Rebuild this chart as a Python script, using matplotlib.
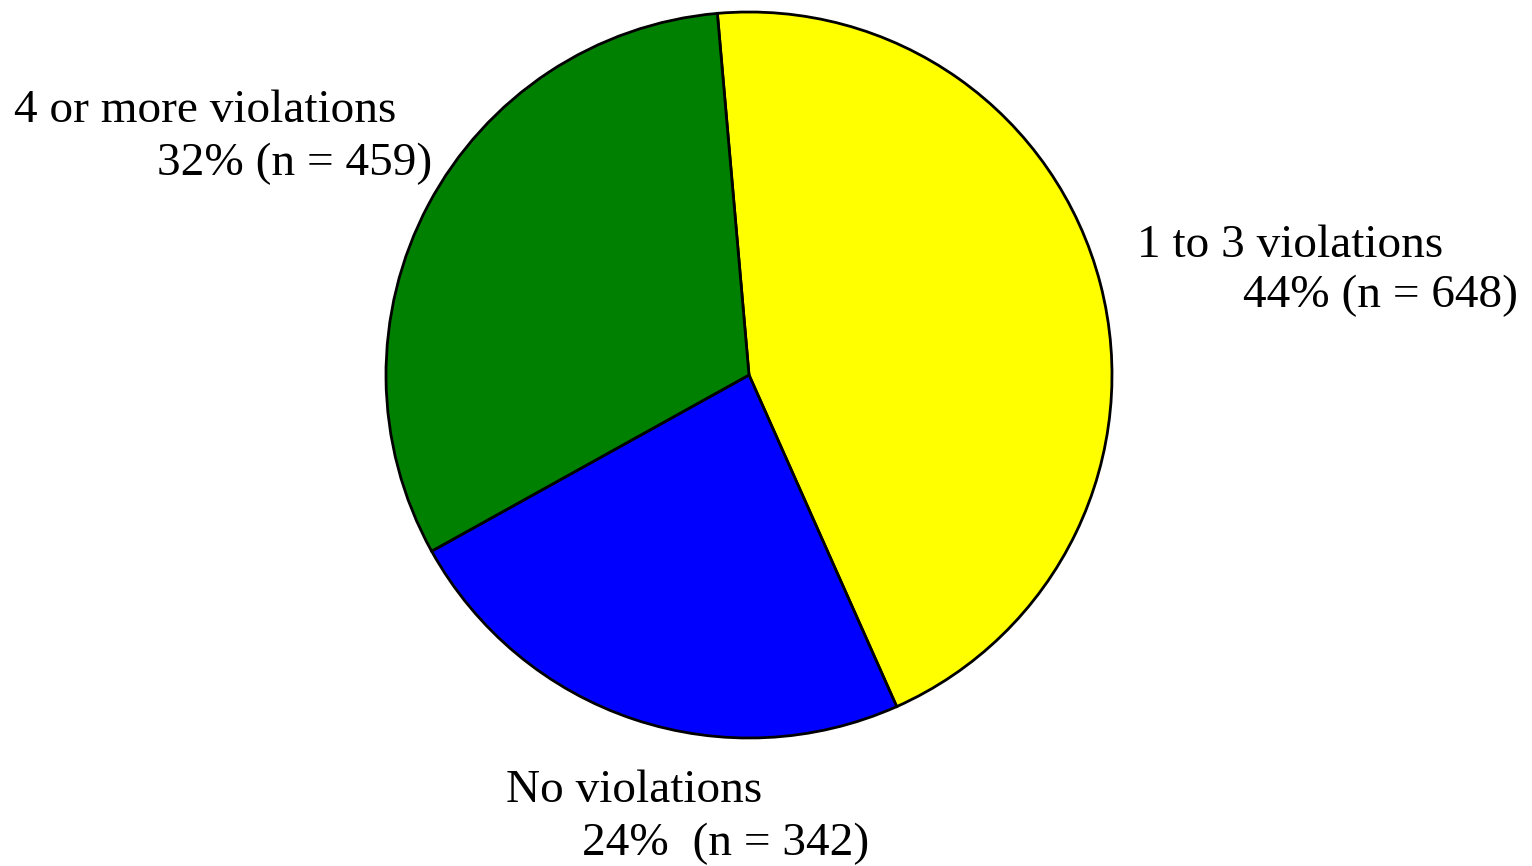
import matplotlib
matplotlib.use('Agg')
import matplotlib.pyplot as plt

# data
categories = ['1 to 3 violations', 'No violations', '4 or more violations']
counts = [648, 342, 459]
percents = ['44%', '24%', '32%']
colors = ['#ffff00', '#0000ff', '#008000']

plt.rcParams['font.family'] = ['Liberation Serif', 'DejaVu Serif']

fig = plt.figure(figsize=(15.32, 8.66), dpi=100)
W, H = 1532, 866

# pie: centre ~(749, 375) px, radius ~363 px
ax = fig.add_axes([386 / W, 128 / H, 726 / W, 726 / H])
ax.pie(counts, colors=colors, startangle=95, counterclock=False,
       wedgeprops=dict(edgecolor='black', linewidth=2))
ax.set_xlim(-1, 1)
ax.set_ylim(-1, 1)
ax.set_aspect('equal')
ax.axis('off')

fs = 34

# label placements (px), first line left-aligned, second right-aligned
name_pos = {0: (1137, 246), 1: (506, 791), 2: (14, 111)}
val_pos = {0: (1518, 296), 1: (869, 844), 2: (432, 164)}
sep = {0: ' ', 1: '  ', 2: ' '}

for i, name in enumerate(categories):
    x, y = name_pos[i]
    fig.text(x / W, 1 - y / H, name, fontsize=fs, ha='left', va='center')
    x, y = val_pos[i]
    fig.text(x / W, 1 - y / H, f'{percents[i]}{sep[i]}(n = {counts[i]})',
             fontsize=fs, ha='right', va='center')

fig.savefig('out.png', dpi=100)
